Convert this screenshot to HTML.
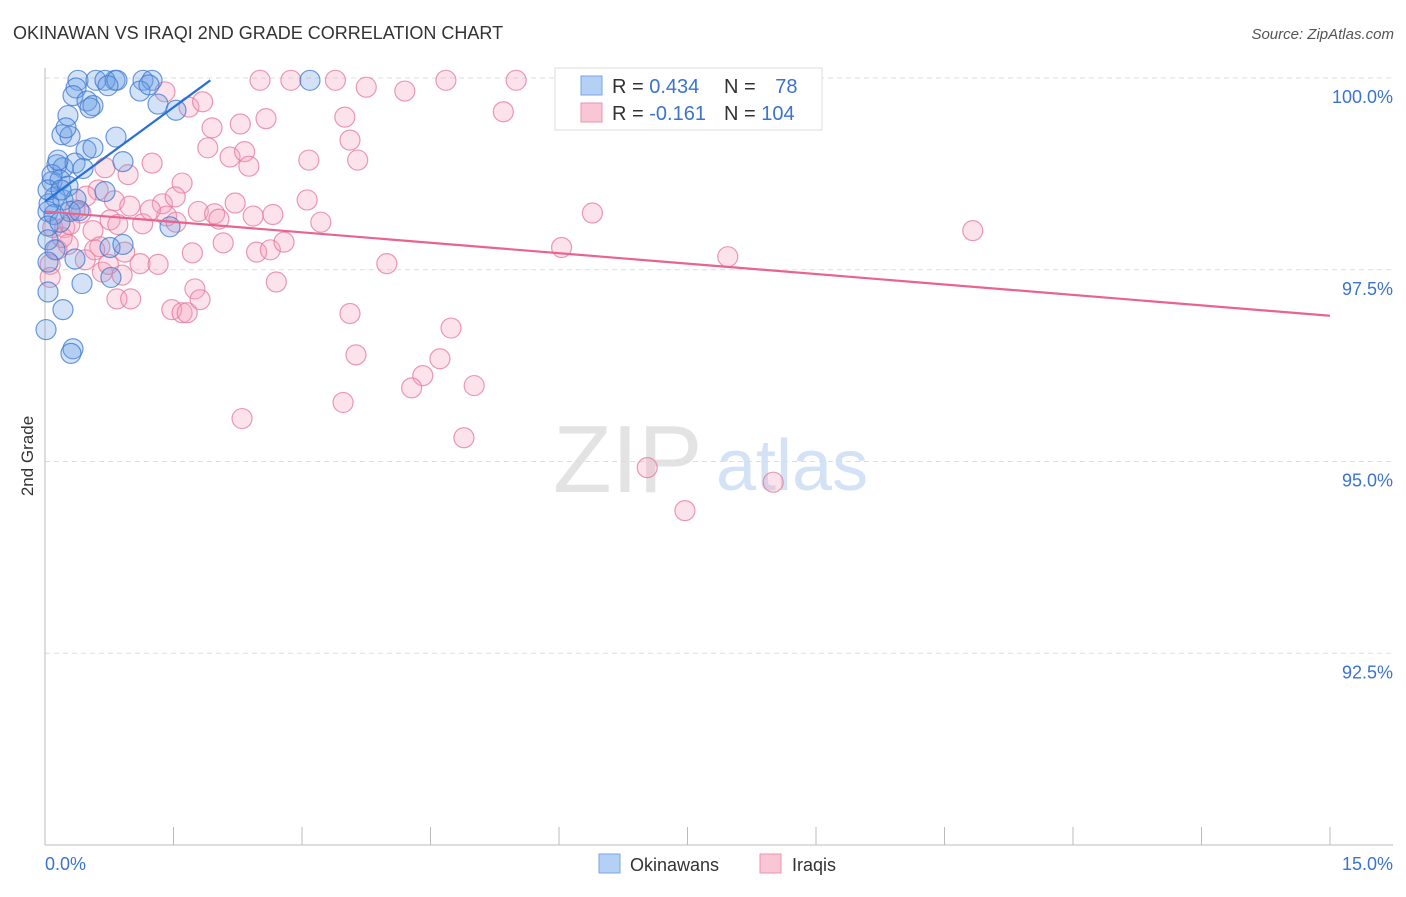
<!DOCTYPE html>
<html><head><meta charset="utf-8"><style>
body{margin:0;background:#fff;font-family:"Liberation Sans",sans-serif;}
svg text{font-family:"Liberation Sans",sans-serif;}
</style></head><body>
<svg id="chart" width="1406" height="892" xmlns="http://www.w3.org/2000/svg">
<text x="13" y="39" font-size="18" fill="#333">OKINAWAN VS IRAQI 2ND GRADE CORRELATION CHART</text>
<text x="1394" y="39" font-size="15" fill="#555" text-anchor="end" font-style="italic">Source: ZipAtlas.com</text>
<text x="553" y="492" font-size="96" fill="#e3e3e3" font-family="Liberation Serif, serif">ZIP</text>
<text x="716" y="490" font-size="72" fill="#d3e2f5">atlas</text>
<g id="grid"></g><g id="axes"></g><g id="pts"></g><g id="lines"></g>
<text transform="translate(33,456) rotate(-90)" font-size="17" fill="#333" text-anchor="middle">2nd Grade</text>
<g>
<rect x="555" y="68" width="267" height="62" fill="#fff" stroke="#ddd"/>
<rect x="581" y="76" width="21" height="19" fill="#b5d0f5" stroke="#7aa6e6"/>
<text x="612" y="93" font-size="20" fill="#333">R = <tspan fill="#3a74d0">0.434</tspan></text>
<text x="724" y="93" font-size="20" fill="#333">N = <tspan fill="#3a74d0" dx="14">78</tspan></text>
<rect x="581" y="103" width="21" height="19" fill="#f9c6d6" stroke="#ea93b0"/>
<text x="612" y="120" font-size="20" fill="#333">R = <tspan fill="#3a74d0">-0.161</tspan></text>
<text x="724" y="120" font-size="20" fill="#333">N = <tspan fill="#3a74d0">104</tspan></text>
</g>
<g>
<rect x="599" y="854" width="21" height="19" fill="#b5d0f5" stroke="#7aa6e6"/>
<text x="630" y="871" font-size="18" fill="#333">Okinawans</text>
<rect x="760" y="854" width="21" height="19" fill="#f9c6d6" stroke="#ea93b0"/>
<text x="792" y="871" font-size="18" fill="#333">Iraqis</text>
</g>
</svg>
<script>
const yTicks=[100,97.5,95,92.5];
const yTickLabels=["100.0%","97.5%","95.0%","92.5%"];
const xLabels=["0.0%","15.0%"];
const blueX=[.385,.595,.817,1.144,1.249,3.093,.70,.84,.362,.735,1.109,1.214,.327,.49,.56,1.319,1.529,.268,.198,.292,.829,.245,.479,.56,.14,.21,.35,.91,.082,.175,.268,.444,.117,.21,.362,.70,.035,.105,.292,.397,.035,.175,.035,.117,.759,.91,1.459,.035,.35,.77,.432,.035,.21,.012,.327,.303,.047,.082,.152,.035,.187,.525];
const blueY=[99.97,99.97,99.97,99.97,99.97,99.97,99.97,99.97,99.87,99.90,99.83,99.91,99.77,99.70,99.64,99.66,99.58,99.51,99.26,99.24,99.23,99.35,99.06,99.09,98.87,98.83,98.89,98.91,98.65,98.67,98.59,98.82,98.45,98.41,98.42,98.52,98.26,98.22,98.26,98.27,98.07,98.12,97.89,97.76,97.79,97.83,98.06,97.60,97.64,97.40,97.32,97.21,96.98,96.72,96.47,96.41,98.36,98.74,98.93,98.54,98.54,99.61];
const pinkX=[1.40,2.51,2.87,3.39,3.75,4.20,4.68,5.50,7.79,5.35,1.68,1.84,1.95,2.28,2.58,3.50,3.56,1.90,2.16,2.33,2.38,3.08,3.65,1.25,.97,1.60,.70,.62,.81,.48,.99,1.37,1.79,1.98,2.03,2.22,2.43,2.66,3.06,3.22,.76,1.14,1.42,1.53,.42,.56,.23,.27,.64,.93,2.08,1.72,2.47,2.63,2.79,.67,.90,1.11,1.32,.74,1.75,1.81,2.70,.84,1.00,1.48,1.60,1.66,3.99,3.56,4.74,3.63,4.61,4.41,4.28,5.01,3.48,2.30,4.89,6.03,6.39,7.97,10.83,7.03,8.50,7.47,.06,.06,.14,.20,.09,.47,.29,.35,.58,.85,1.23,1.52];
const pinkY=[99.82,99.97,99.97,99.97,99.88,99.83,99.97,99.97,99.97,99.56,99.62,99.69,99.35,99.40,99.47,99.49,99.19,99.09,98.97,99.04,98.85,98.93,98.93,98.89,98.74,98.63,98.83,98.54,98.40,98.46,98.33,98.36,98.26,98.23,98.16,98.37,98.20,98.22,98.41,98.12,98.15,98.10,98.20,98.12,98.24,98.01,98.05,97.83,97.80,97.73,97.85,97.72,97.73,97.76,97.86,97.47,97.43,97.58,97.57,97.57,97.25,97.11,97.34,97.12,97.12,96.98,96.94,96.94,97.58,96.93,96.74,96.39,96.34,96.12,95.96,95.99,95.77,95.56,95.31,97.79,98.24,97.67,98.01,94.92,94.73,94.36,97.57,97.40,97.76,97.92,98.05,97.63,98.09,98.28,97.76,98.09,98.28,98.45];
const blueTrendX=[0,1.93];
const blueTrendY=[98.39,99.97];
const pinkTrendX=[0,15];
const pinkTrendY=[98.26,96.90];

const NS="http://www.w3.org/2000/svg";
const X0=45,X1=1330,Y0=78,YB=845;
function sx(v){return X0+(v/15)*(X1-X0);}
function sy(v){return Y0+(100-v)/10*(YB-Y0);}
function mk(tag,attrs,parent){const e=document.createElementNS(NS,tag);for(const k in attrs)e.setAttribute(k,attrs[k]);parent.appendChild(e);return e;}
const grid=document.getElementById('grid'),axes=document.getElementById('axes'),pts=document.getElementById('pts'),lines=document.getElementById('lines');
yTicks.forEach((t,i)=>{
  const l=mk('line',{x1:X0,x2:1393,y1:sy(t),y2:sy(t),stroke:'#ddd','stroke-dasharray':'5,4'},grid);
  
  
  const tx=mk('text',{x:1393,y:sy(t)+25,'font-size':18,fill:'#3a74d0','text-anchor':'end'},grid);
  tx.textContent=yTickLabels[i];
  
  
});
const ya=mk('line',{x1:X0,x2:X0,y1:68,y2:YB,stroke:'#bbb'},axes);


const xa=mk('line',{x1:X0,x2:1393,y1:YB,y2:YB,stroke:'#bbb'},axes);


for(let i=0;i<=10;i++){
  const t=mk('line',{x1:sx(i*1.5),x2:sx(i*1.5),y1:YB-18,y2:YB,stroke:'#bbb'},axes);
  
  
}
[[0,'start',X0],[1,'end',1393]].forEach(([i,a,x])=>{
  const t=mk('text',{x:x,y:870,'font-size':18,fill:'#3a74d0','text-anchor':a},axes);
  t.textContent=xLabels[i];
  
  
});
pinkX.forEach((v,i)=>{
  const c=mk('circle',{cx:sx(v),cy:sy(pinkY[i]),r:10,fill:'rgba(244,160,188,0.3)',stroke:'rgba(230,120,155,0.75)','stroke-width':1.2},pts);
  
  
});
blueX.forEach((v,i)=>{
  const c=mk('circle',{cx:sx(v),cy:sy(blueY[i]),r:10,fill:'rgba(110,160,230,0.3)',stroke:'rgba(60,120,210,0.75)','stroke-width':1.2},pts);
  
  
});
const bl=mk('line',{x1:sx(blueTrendX[0]),y1:sy(blueTrendY[0]),x2:sx(blueTrendX[1]),y2:sy(blueTrendY[1]),stroke:'#2a6fd6','stroke-width':2.2},lines);


const pl=mk('line',{x1:sx(pinkTrendX[0]),y1:sy(pinkTrendY[0]),x2:sx(pinkTrendX[1]),y2:sy(pinkTrendY[1]),stroke:'#e8648e','stroke-width':2.2},lines);


</script>
</body></html>
